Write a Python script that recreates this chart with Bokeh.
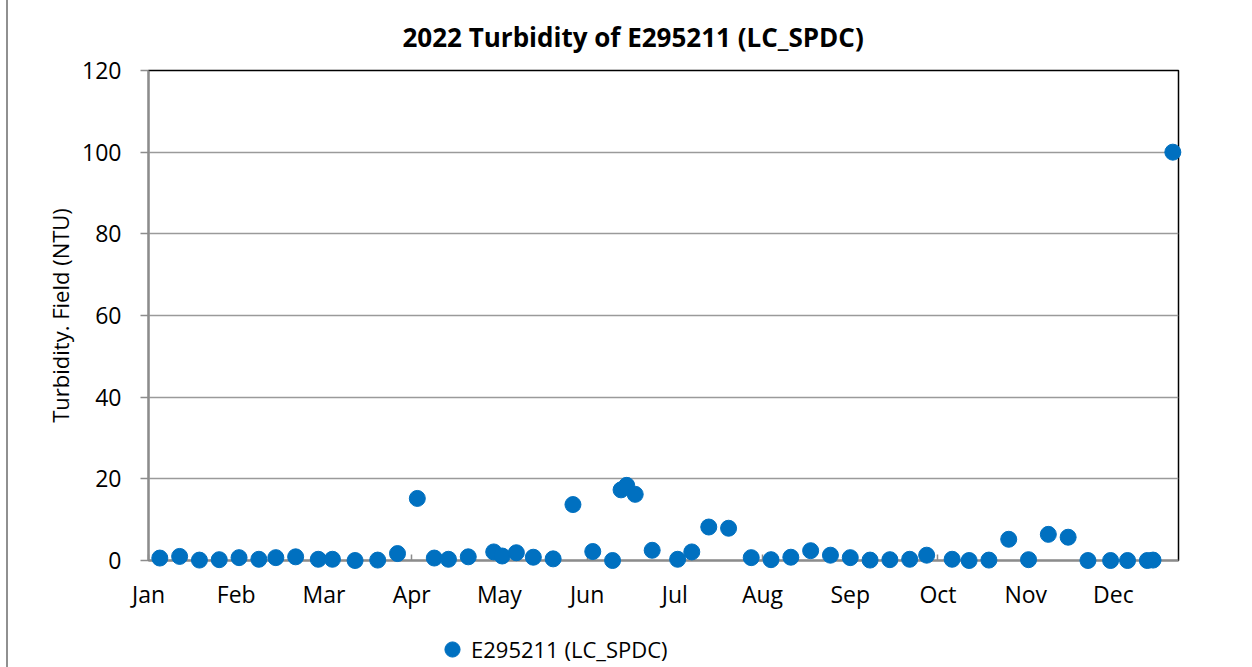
from bokeh.plotting import figure
from bokeh.layouts import column
from bokeh.models import ColumnDataSource, FixedTicker, Range1d, Legend, LegendItem
from bokeh.embed import file_html
from bokeh.resources import INLINE

# Day of year 2022 (0 = Jan 1)
days = [4, 11, 18, 25, 32, 39, 45, 52, 60, 65, 73, 81, 88, 95, 101, 106, 113,
        122, 125, 130, 136, 143, 150, 157, 164, 167, 169, 172, 178, 187, 192,
        198, 205, 213, 220, 227, 234, 241, 248, 255, 262, 269, 275, 284, 290,
        297, 304, 311, 318, 325, 332, 340, 346, 353, 355, 362]
turbidity = [0.6, 1.0, 0.1, 0.2, 0.7, 0.3, 0.7, 0.9, 0.3, 0.3, 0.0, 0.1, 1.7,
             15.2, 0.6, 0.3, 0.9, 2.1, 1.1, 1.9, 0.8, 0.4, 13.7, 2.2, 0.0, 17.3,
             18.4, 16.2, 2.5, 0.3, 2.1, 8.2, 7.9, 0.7, 0.2, 0.8, 2.4, 1.3, 0.7,
             0.1, 0.2, 0.3, 1.3, 0.3, 0.0, 0.1, 5.2, 0.2, 6.4, 5.7, 0.0, 0.0,
             0.0, 0.0, 0.1, 100.0]
tick_days = [0, 31, 62, 93, 124, 155, 186, 217, 248, 279, 310, 341]
tick_labels = ["Jan", "Feb", "Mar", "Apr", "May", "Jun", "Jul", "Aug", "Sep",
               "Oct", "Nov", "Dec"]
y_ticks = [0, 20, 40, 60, 80, 100, 120]
series_name = "E295211 (LC_SPDC)"

FONT = "Open Sans"
BLUE = "#0070C0"
GRAY = "#8C8C8C"
SIDE = {"border-left": "2px solid #909090", "margin-left": "6px"}

src = ColumnDataSource(data=dict(x=days, y=turbidity))

p = figure(width=1236, height=610, output_backend="svg", toolbar_location=None,
           x_range=Range1d(0, 364), y_range=Range1d(0, 120),
           frame_width=1028, frame_height=490,
           min_border_left=140, min_border_right=68, min_border_top=70,
           min_border_bottom=50)
p.styles = SIDE

p.title.text = "2022 Turbidity of E295211 (LC_SPDC)"
p.title.text_font = FONT
p.title.text_font_size = "26px"
p.title.text_font_style = "bold"
p.title.text_color = "black"
p.title.align = "left"
p.title.offset = 254
p.title.standoff = 31

p.outline_line_color = "black"
p.outline_line_width = 1.5
p.background_fill_color = "white"
p.border_fill_color = "white"

# x axis
p.xaxis.ticker = FixedTicker(ticks=tick_days)
p.xaxis.major_label_overrides = {d: l for d, l in zip(tick_days, tick_labels)}
p.xaxis.major_tick_in = 6
p.xaxis.major_tick_out = 0
p.xaxis.minor_tick_line_color = None
p.xaxis.axis_line_color = GRAY
p.xaxis.axis_line_width = 2
p.xaxis.major_tick_line_color = GRAY
p.xaxis.major_tick_line_width = 1.5
p.xaxis.major_label_text_font = FONT
p.xaxis.major_label_text_font_size = "23px"
p.xaxis.major_label_text_color = "black"
p.xaxis.major_label_standoff = 17
p.xgrid.grid_line_color = None

# y axis
p.yaxis.ticker = FixedTicker(ticks=y_ticks)
p.yaxis.major_tick_in = 0
p.yaxis.major_tick_out = 8
p.yaxis.minor_tick_line_color = None
p.yaxis.axis_line_color = GRAY
p.yaxis.axis_line_width = 2
p.yaxis.major_tick_line_color = GRAY
p.yaxis.major_tick_line_width = 1.5
p.yaxis.major_label_text_font = FONT
p.yaxis.major_label_text_font_size = "23px"
p.yaxis.major_label_text_color = "black"
p.yaxis.major_label_standoff = 19
p.yaxis.axis_label = "Turbidity. Field (NTU)"
p.yaxis.axis_label_text_font = FONT
p.yaxis.axis_label_text_font_size = "22px"
p.yaxis.axis_label_text_font_style = "normal"
p.yaxis.axis_label_text_color = "black"
p.yaxis.axis_label_standoff = 4
p.ygrid.grid_line_color = "#9A9A9A"
p.ygrid.grid_line_width = 1.5

p.scatter("x", "y", source=src, size=16, marker="circle",
          fill_color=BLUE, line_color=BLUE, level="overlay")

# legend strip below the chart (its view range shows none of the points)
pl = figure(width=1236, height=57, output_backend="svg", toolbar_location=None,
            x_axis_type=None, y_axis_type=None,
            x_range=Range1d(-2, -1), y_range=Range1d(-2, -1),
            min_border_left=0, min_border_right=0, min_border_top=0,
            min_border_bottom=0)
pl.styles = SIDE
pl.outline_line_color = None
pl.xgrid.grid_line_color = None
pl.ygrid.grid_line_color = None
pl.border_fill_color = "white"
lr = pl.scatter("x", "y", source=src, size=16, marker="circle",
                fill_color=BLUE, line_color=BLUE)
legend = Legend(items=[LegendItem(label=series_name, renderers=[lr])],
                location=(285, 1), orientation="horizontal",
                label_text_font=FONT, label_text_font_size="22px",
                label_text_color="black",
                label_height=38, glyph_height=38, glyph_width=38,
                border_line_color=None, background_fill_alpha=0,
                padding=0, margin=0,
                label_standoff=0, spacing=0)
pl.add_layout(legend, "center")

layout = column(p, pl, spacing=0)

html = file_html(layout, INLINE)
open("out.html", "w").write(html)
